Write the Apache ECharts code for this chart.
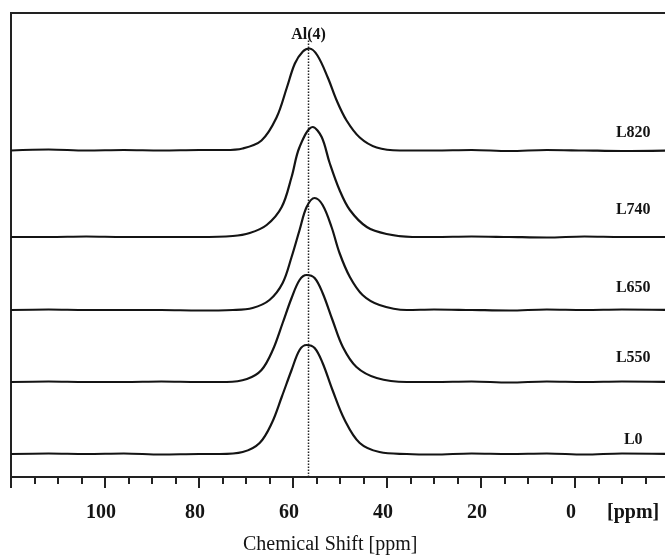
<!DOCTYPE html>
<html>
<head>
<meta charset="utf-8">
<script src="https://cdn.jsdelivr.net/npm/echarts@6/dist/echarts.min.js"></script>
<style>
  html, body { margin: 0; padding: 0; background: #fff; }
  #main { width: 665px; height: 559px; }
</style>
</head>
<body>
<div id="main"></div>
<script>
// sample names, bottom to top
var samples = ['L0', 'L550', 'L650', 'L740', 'L820'];
// vertical stacking offset of each trace (same units as intensity)
var offsets = [23, 95, 167, 240, 326.5];
// how far above its baseline each sample name sits
var nameLift = [14, 24, 22, 27, 18];

// spectra as [ppm, intensity]
var specL0 = [
  [120, 0], [112, 0.5], [104, 0], [96, 0.5], [88, -0.5], [80, 0],
  [75.6, 0], [70.7, 2], [67.1, 11], [64.5, 31], [62.4, 57], [60.3, 84],
  [58.6, 104], [57.1, 109], [55.4, 106], [53.7, 91], [51.6, 64], [49.0, 34],
  [45.8, 11], [41.6, 2], [35.8, 0],
  [30, -0.5], [22, 0.5], [14, 0], [6, 0.5], [-2, -0.5], [-10, 0.5], [-20, 0]
];
var specL550 = [
  [120, 0], [112, 0.5], [104, 0], [96, 0], [88, 0.5], [80, 0],
  [74.1, 0], [69.8, 3], [66.7, 12], [64.3, 32], [62.2, 59], [60.3, 84],
  [58.6, 102], [57.1, 107], [55.4, 104], [53.7, 89], [51.6, 62], [49.4, 35],
  [46.5, 15], [42.2, 4], [35.8, 0],
  [30, 0], [22, 0.5], [14, -0.5], [6, 0.5], [-2, 0], [-10, 0.5], [-20, 0]
];
var specL650 = [
  [120, 0], [112, 0.5], [104, 0], [96, 0], [88, 0], [80, -0.5],
  [72.8, 0], [68.6, 2], [65.0, 10], [62.2, 27], [60.3, 53], [58.6, 80],
  [57.1, 103], [55.4, 112], [53.7, 105], [51.8, 83], [50.1, 57], [47.9, 33],
  [45.2, 15], [41.6, 5], [35.8, 0],
  [30, 0.5], [22, 0], [14, -0.5], [6, 0.5], [-2, 0], [-10, 0.5], [-20, 0]
];
var specL740 = [
  [120, 0], [112, 0], [104, 0.5], [96, 0], [88, 0], [80, 0],
  [72.8, 1], [69.2, 4], [65.6, 12], [62.4, 30], [60.3, 60], [58.6, 90],
  [55.8, 110], [53.9, 100], [52.2, 74], [50.1, 47], [47.9, 27], [44.3, 10],
  [40.1, 3], [34.6, 0],
  [30, 0], [22, 0.5], [14, 0], [6, -0.5], [-2, 0.5], [-10, 0], [-20, 0]
];
var specL820 = [
  [120, 0], [112, 1], [104, 0], [96, 0.5], [88, 0], [80, 0.5],
  [74.5, 0.5], [70.7, 2], [66.7, 10], [63.5, 33], [61.3, 63], [59.6, 87],
  [57.9, 99], [56.5, 102], [54.8, 95], [52.6, 73], [50.7, 50], [48.6, 30],
  [45.8, 13], [42.2, 3], [37.3, 0],
  [30, 0], [22, 0.5], [14, -0.5], [6, 0.5], [-2, 0], [-10, -0.5], [-20, 0]
];
var spectra = [specL0, specL550, specL650, specL740, specL820];

// Al(4) marker
var alPpm = 56.7;
var alTop = 437;
var alLabelY = 442;
var sampleLabelPpm = -12.4;

var serif = 'Liberation Serif';
var ink = '#141414';

var series = [{
  type: 'line',
  data: [[alPpm, 0], [alPpm, alTop]],
  symbol: 'none',
  silent: true,
  lineStyle: { color: '#222', width: 1.5, type: [1.5, 1.5] },
  z: 1
}];

spectra.forEach(function (spec, i) {
  series.push({
    name: samples[i],
    type: 'line',
    smooth: 0.35,
    symbol: 'none',
    lineStyle: { color: ink, width: 2.2 },
    data: spec.map(function (p) { return [p[0], p[1] + offsets[i]]; }),
    z: 3
  });
});

var labelData = samples.map(function (s, i) {
  return { name: s, value: [sampleLabelPpm, offsets[i] + nameLift[i]] };
});
labelData.push({ name: 'Al(4)', value: [alPpm, alLabelY] });

series.push({
  type: 'scatter',
  symbolSize: 0,
  itemStyle: { opacity: 1, color: ink },
  data: labelData,
  label: {
    show: true,
    position: 'inside',
    formatter: '{b}',
    fontFamily: serif,
    fontWeight: 'bold',
    fontSize: 16,
    color: ink,
    textBorderWidth: 0
  },
  z: 4
});

var chart = echarts.init(document.getElementById('main'));
chart.setOption({
  animation: false,
  grid: {
    left: 11, top: 13, width: 658, height: 464,
    outerBoundsMode: 'none',
    containLabel: false,
    show: true,
    borderColor: '#222',
    borderWidth: 2
  },
  xAxis: {
    type: 'value',
    inverse: true,
    min: -20,
    max: 120,
    interval: 20,
    splitLine: { show: false },
    axisLine: { lineStyle: { color: '#222', width: 2 } },
    axisTick: { show: true, length: 11, lineStyle: { color: '#222', width: 2 } },
    minorTick: { show: true, splitNumber: 4, length: 7, lineStyle: { color: '#222', width: 2 } },
    axisLabel: {
      margin: 26,
      fontFamily: serif,
      fontWeight: 'bold',
      fontSize: 20,
      color: ink,
      padding: [0, 8, 0, 0],
      formatter: function (v) {
        return (v >= 0 && v <= 100) ? String(v) : '';
      }
    }
  },
  yAxis: {
    type: 'value',
    min: 0,
    max: 464,
    show: false
  },
  graphic: [
    {
      type: 'text',
      left: 607, top: 503,
      style: { text: '[ppm]', font: 'bold 20px "Liberation Serif"', fill: ink }
    },
    {
      type: 'text',
      left: 243, top: 535,
      style: { text: 'Chemical Shift [ppm]', font: '20px "Liberation Serif"', fill: ink }
    }
  ],
  series: series
});
</script>
</body>
</html>
